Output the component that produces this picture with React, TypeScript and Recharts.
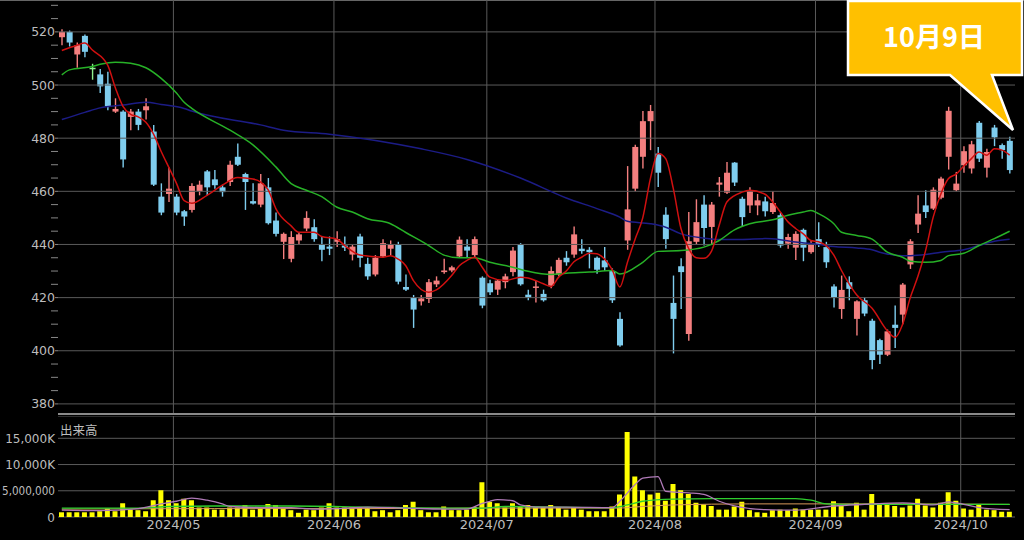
import React from 'react';
import { ComposedChart, Bar, Line, XAxis, YAxis, CartesianGrid, ReferenceLine } from 'recharts';

// trading days shown (Apr 9 .. Oct 9, 2024)
const aprDays = [9, 10, 11, 12, 15, 16, 17, 18, 19, 22, 23, 24, 25, 26, 30];
const mayDays = [1, 2, 7, 8, 9, 10, 13, 14, 15, 16, 17, 20, 21, 22, 23, 24, 27, 28, 29, 30, 31];
const junDays = [3, 4, 5, 6, 7, 10, 11, 12, 13, 14, 17, 18, 19, 20, 21, 24, 25, 26, 27, 28];
const julDays = [1, 2, 3, 4, 5, 8, 9, 10, 11, 12, 16, 17, 18, 19, 22, 23, 24, 25, 26, 29, 30, 31];
const augDays = [1, 2, 5, 6, 7, 8, 9, 13, 14, 15, 16, 19, 20, 21, 22, 23, 26, 27, 28, 29, 30];
const sepDays = [2, 3, 4, 5, 6, 9, 10, 11, 12, 13, 17, 18, 19, 20, 24, 25, 26, 27, 30];
const octDays = [1, 2, 3, 4, 7, 8, 9];

const monthLabels = ['2024/05', '2024/06', '2024/07', '2024/08', '2024/09', '2024/10'];

const openP = [
  518, 520, 511.5, 518.5, 506.5, 504, 500.5, 490, 490, 488,
  490, 490.5, 482.5, 458, 459, 458, 452.5, 453, 460, 467.5,
  464.5, 461.5, 463.5, 473, 466.5, 456.3, 455, 461.5, 449, 441,
  434.6, 441.5, 446, 446.5, 440, 439.2, 441, 439.6, 436.2, 443,
  432.7, 428.7, 435.5, 438.4, 440, 424, 420, 418.6, 419.5, 425,
  429.6, 430.2, 435.5, 439.2, 436, 427.5, 425.4, 423, 425.8, 429.6,
  440, 421.1, 423.8, 421.4, 424.5, 428.7, 435, 436.2, 438.4, 438,
  435, 434, 430, 412, 441.5, 461, 473, 486.4, 474.2, 451.2,
  418, 431.8, 406.3, 441, 455, 446.6, 462.5, 459.5, 470.8, 457.2,
  454.7, 454.7, 456.2, 452.2, 451, 440.3, 438.8, 445.5, 437.1, 442,
  439, 424.2, 415.7, 425.8, 412, 419, 411.3, 404, 398.5, 409.8,
  413.6, 432.5, 447.5, 454.7, 453.5, 457.6, 473, 460.4, 469.8, 468.6,
  485.8, 468.9, 484, 477.4, 479,
];
const highP = [
  521, 520.5, 516, 519, 508, 506, 505, 495, 490.5, 491,
  491, 495, 485, 463, 469, 459, 453, 463, 464, 468,
  468, 462.5, 471.5, 478, 467, 463, 466.5, 465, 452, 444.5,
  445, 444.5, 452.5, 449.5, 443, 443, 445, 443, 440, 444,
  435, 436, 442, 441.5, 441, 428.7, 421, 421, 427, 428,
  434.6, 432, 443, 442, 443, 428, 426.7, 427, 429, 439,
  440.5, 423, 426.4, 423, 431.7, 435, 437.5, 446.8, 442, 439,
  435.5, 439, 431, 414.5, 469.5, 477.5, 490.2, 492.5, 476.7, 454,
  428.3, 434.8, 452.2, 457, 458.5, 456, 465.4, 471, 471, 458,
  461.5, 459, 458, 460, 452, 444, 445, 446, 441.5, 448.4,
  441, 425, 428.3, 428, 419, 420, 412, 404.5, 408, 417,
  425.5, 442, 458.5, 460.4, 461.5, 465.5, 491.8, 467.3, 477, 479,
  486.5, 476, 485, 478, 480.5,
];
const lowP = [
  515, 514.5, 506.5, 510.5, 502, 497, 490.5, 489.5, 469, 483,
  483, 487, 462, 451, 456, 451, 447, 452, 458.5, 458.5,
  461, 458, 462, 469.5, 453, 455, 454, 447.5, 443, 434.5,
  433.3, 440, 445, 441, 433.7, 436, 439, 437.5, 434, 431.4,
  426.7, 428, 435, 436, 425, 422.5, 408.6, 417, 418, 424,
  429, 429.5, 435, 435, 435, 416, 421, 421, 423.5, 428,
  424.5, 419, 418.2, 418.5, 423.5, 428, 432, 435, 436.5, 431,
  429, 430, 418, 401.5, 438, 460, 468.6, 475.5, 461.6, 438.4,
  399, 415.7, 403.8, 440, 439.6, 440, 458, 459, 462, 446.8,
  451.8, 451, 450.5, 451.5, 438.8, 438.4, 434.2, 433.7, 436.5, 439,
  431.2, 416.3, 412, 419, 405.7, 413, 393, 395, 398, 401,
  410, 430.8, 444.3, 450, 453, 457, 468.2, 460, 467, 466.7,
  471, 465.2, 477, 472.3, 466.7,
];
const closeP = [
  520, 516, 515, 512.5, 506.5, 499.5, 492, 491, 472, 490,
  485, 492, 462.5, 452, 461, 452, 450.5, 462, 462.5, 461.5,
  462.3, 459.7, 470, 470, 463.5, 455.4, 463, 448, 444, 444,
  442.8, 443.8, 450, 442, 438, 438.4, 442, 438.8, 439.2, 435,
  428, 435, 440.5, 440, 426, 423, 415.5, 419.7, 425.8, 426.4,
  430.2, 431.4, 441.8, 437.7, 442, 417, 422, 426.4, 428, 437.7,
  425, 420, 424.2, 419, 430, 434.2, 433.3, 443.8, 437.5, 437.1,
  430.5, 431.4, 419, 402, 453.2, 476.7, 486.4, 490.2, 467, 442,
  412, 429.6, 441.2, 448.4, 446.2, 455, 463.3, 467, 463.3, 450.3,
  460.4, 456.6, 452.5, 455.6, 439.6, 442.8, 444, 438.8, 440, 440,
  433.3, 420, 422.9, 423.3, 418.6, 414, 396.5, 398.5, 407.3, 408.6,
  424.9, 441.2, 451.6, 452.2, 460.6, 464.8, 490.3, 462.9, 475.1, 477.7,
  472.3, 474.8, 480.3, 475.5, 468,
];

// volume in thousands of shares
const volumeK = [
  900, 900, 900, 900, 900, 1100, 1600, 1100, 2600, 1400,
  1300, 1100, 3200, 5100, 3200, 2600, 3500, 3200, 1800, 1800,
  1400, 1400, 1800, 1800, 2300, 1400, 1600, 2500, 2300, 1600,
  1300, 800, 1400, 1300, 1800, 2600, 1800, 1800, 1800, 1900,
  1800, 1100, 1300, 900, 1300, 2300, 2900, 1300, 900, 900,
  2000, 1300, 1300, 1400, 1900, 6600, 2900, 2600, 1800, 2600,
  1900, 2300, 1800, 1900, 2300, 1800, 1400, 1800, 1400, 1100,
  1100, 1100, 2000, 4300, 16200, 7700, 5100, 4300, 4600, 3100,
  6300, 5100, 4400, 2700, 2400, 2100, 1400, 1400, 2000, 2900,
  1300, 900, 800, 1300, 1400, 1300, 1600, 1400, 1400, 1400,
  1400, 3000, 2300, 1100, 2700, 1400, 4400, 2400, 2500, 2100,
  1800, 2200, 3500, 2200, 1800, 2700, 4700, 3100, 1600, 1400,
  2500, 1400, 1300, 1000, 1000,
];

// moving averages: [candle index, value]
const priceMaShort = [
  [0, 513], [2, 515], [3, 515.8], [4, 513.2], [6, 507.5], [7, 499], [8, 492], [9, 489], [10, 488], [11, 486],
  [12, 481.5], [13, 475], [14, 469], [15, 463], [16, 456.5], [17, 455.5], [19, 458.5], [21, 462.3], [23, 465.2],
  [25, 464.6], [26, 463.5], [27, 460.5], [28, 453.5], [30, 447], [31, 444.6], [33, 444.6], [34, 443], [36, 442],
  [37, 439.6], [39, 436], [42, 435.2], [43, 435.8], [44, 434.5], [45, 432], [46, 426.4], [48, 422], [49, 422.9],
  [51, 428.3], [52, 432], [53, 434], [54, 435.2], [55, 431.4], [56, 427.7], [58, 426.4], [60, 427.7], [61, 427.4],
  [63, 425.2], [64, 424.2], [65, 427.7], [66, 430], [67, 433.5], [68, 435.2], [69, 436.7], [70, 436.5], [71, 434.5],
  [72, 430.5], [73, 424], [74, 433.3], [75, 442], [76, 450], [77, 464.8], [78, 474.2], [79, 472.3], [80, 461],
  [81, 446], [82, 438.5], [83, 435], [84, 434.8], [85, 437.5], [86, 447.2], [87, 456], [89, 459.7], [90, 460.4],
  [92, 458.9], [93, 456], [94, 452.2], [95, 448.5], [96, 446], [97, 444], [98, 441.5], [99, 441], [100, 439.5],
  [101, 436], [102, 430.2], [103, 425.2], [104, 421], [106, 416], [108, 407.5], [109, 405], [110, 410], [111, 420],
  [112, 428], [113, 437.7], [114, 450.3], [115, 459], [116, 464.8], [117, 466.5], [118, 469.5], [119, 472.3],
  [120, 474.8], [121, 473.6], [122, 476], [123, 475.5], [124, 473.6],
];
const priceMaMid = [
  [0, 503.8], [1, 505.7], [4, 507], [5, 507.8], [7, 508.6], [9, 508.2], [11, 506.5], [13, 502.5], [15, 497],
  [16, 493.5], [17, 491.2], [22, 483], [25, 477.5], [28, 469.2], [30, 462.9], [32, 460.4], [34, 458], [36, 454],
  [38, 452.2], [40, 449.7], [43, 447.8], [45, 444.5], [48, 439.6], [50, 436], [52, 435], [54, 435], [56, 433.3],
  [59, 431.4], [61, 429.9], [64, 428.7], [66, 429.2], [69, 429.6], [72, 430.2], [73, 428.9], [76, 433.3],
  [78, 437.4], [81, 437.7], [84, 439], [86, 441.5], [88, 445.5], [90, 447.8], [93, 449.3], [95, 451], [97, 452.2],
  [98, 452.8], [99, 451.6], [101, 447.8], [102, 444.6], [104, 443.4], [106, 442], [108, 437.1], [110, 435.2],
  [111, 433.7], [113, 433.3], [115, 434], [116, 435.8], [118, 436.7], [120, 439.6], [122, 442.2], [124, 445],
];
const priceMaLong = [
  [0, 487], [3, 489.7], [5, 491.4], [8, 492.5], [11, 493.5], [13, 492.7], [16, 491.2], [17, 490.2], [26, 485],
  [29, 483], [35, 481.5], [47, 476], [53, 472], [60, 465], [66, 457.5], [70, 453.5], [73, 450.3], [74, 448.7],
  [77, 447.8], [79, 446.5], [81, 444], [84, 442.4], [86, 441.9], [89, 441.9], [92, 442.2], [94, 441.8],
  [96, 440.9], [99, 440], [101, 439.2], [104, 438.7], [106, 438], [107, 437.1], [110, 435.8], [111, 435.8],
  [113, 436.2], [115, 437.1], [118, 438], [120, 439.6], [122, 441.2], [124, 442],
];
const volMaShort = [
  [0, 1300], [5, 1200], [10, 1600], [13, 2500], [15, 3000], [17, 3600], [19, 3200], [21, 2500], [22, 2000],
  [26, 1800], [30, 1800], [33, 1500], [36, 1600], [40, 1900], [45, 1700], [50, 1500], [53, 1500], [55, 2600],
  [56, 3000], [57, 3300], [59, 3100], [60, 2300], [62, 1900], [66, 1900], [72, 1800], [73, 3000], [75, 6200],
  [76, 7400], [78, 7700], [79, 4900], [82, 4600], [84, 4300], [86, 3000], [88, 2100], [92, 1400], [96, 1300],
  [101, 2100], [105, 2400], [110, 2700], [114, 2300], [116, 2900], [118, 2400], [120, 1800], [124, 1400],
];
const volMaMid = [
  [0, 1700], [10, 1700], [14, 2000], [20, 2100], [30, 2100], [40, 1900], [50, 1700], [55, 1700], [58, 2000],
  [72, 1800], [74, 2300], [76, 3000], [80, 3400], [85, 3500], [96, 3500], [98, 3200], [100, 2500], [104, 2400],
  [124, 2400],
];
const volMaLong = [
  [0, 1500], [20, 1600], [40, 1600], [55, 1700], [73, 1700], [75, 1900], [80, 2300], [90, 2500], [110, 2500],
  [124, 2400],
];

const priceTicks = [380, 400, 420, 440, 460, 480, 500, 520];
const priceMinorTicks = [
  380, 385, 390, 395, 400, 405, 410, 415, 420, 425, 430, 435, 440, 445, 450, 455, 460, 465, 470, 475,
  480, 485, 490, 495, 500, 505, 510, 515, 520, 525, 530,
];
const volTicks = [0, 5000, 10000, 15000];
const volTickLabels = ['0', '5,000,000', '10,000K', '15,000K'];

const UP = '#f47f7f';
const DOWN = '#7fcdee';
const DOJI = '#8ff08f';
const GRID = '#5a5a5a';
const TEXT = '#bdbdbd';
const FONT = '"DejaVu Sans", Verdana, sans-serif';

const allDays = [aprDays, mayDays, junDays, julDays, augDays, sepDays, octDays];
const dates: string[] = [];
const monthStarts: number[] = [];
allDays.forEach((days, m) => {
  if (m > 0) monthStarts.push(dates.length - 0.4);
  days.forEach((d) => dates.push(`2024/${String(m + 4).padStart(2, '0')}/${String(d).padStart(2, '0')}`));
});

const candles = dates.map((date, i) => ({
  i,
  date,
  open: openP[i],
  high: highP[i],
  low: lowP[i],
  close: closeP[i],
  vol: volumeK[i],
}));

const toSeries = (pts: number[][]) => pts.map(([i, v]) => ({ i, v }));

const X_DOMAIN: [number, number] = [-0.5, 124.7];
const LEFT = 58;
const RIGHT = 9;

const Candle = (props: any) => {
  const { x, y, width, height, payload } = props;
  if (x == null || y == null) return null;
  const { open, close, high, low } = payload;
  const top = Math.min(y, y + height);
  const h = Math.abs(height);
  const k = h / (high - low);
  const cx = x + width / 2;
  const yO = top + (high - open) * k;
  const yC = top + (high - close) * k;
  const color = close > open ? UP : close < open ? DOWN : DOJI;
  const bodyTop = Math.min(yO, yC);
  const bodyH = Math.max(Math.abs(yO - yC), 1.5);
  return (
    <g>
      <line x1={cx} x2={cx} y1={top} y2={top + h} stroke={color} strokeWidth={1.4} />
      <rect x={x} y={bodyTop} width={width} height={bodyH} fill={color} />
    </g>
  );
};

const PriceTick = (props: any) => {
  const { x, y, payload } = props;
  const major = priceTicks.includes(payload.value);
  return (
    <g>
      <line x1={major ? x - 3 : x - 7} x2={x} y1={y} y2={y} stroke="#888" strokeWidth={1} />
      {major && (
        <text x={x - 3} y={y} dy={4.5} textAnchor="end" fill={TEXT} fontSize={12.5} fontFamily={FONT}>
          {payload.value}
        </text>
      )}
    </g>
  );
};

const VolTick = (props: any) => {
  const { x, y, payload } = props;
  const label = volTickLabels[volTicks.indexOf(payload.value)];
  const long = label.length > 7;
  return (
    <text
      x={x}
      y={y}
      dy={4.5}
      textAnchor="end"
      fill={TEXT}
      fontSize={12}
      fontFamily={FONT}
      textLength={long ? 53 : undefined}
      lengthAdjust={long ? 'spacingAndGlyphs' : undefined}
    >
      {label}
    </text>
  );
};

export default function App() {
  return (
    <div
      style={{
        position: 'fixed',
        left: 0,
        top: 0,
        width: 1024,
        height: 540,
        background: '#000',
        overflow: 'hidden',
        fontFamily: FONT,
      }}
    >
      <div style={{ position: 'absolute', left: 0, top: 0, width: 1024, height: 1, background: '#666' }} />
      <div style={{ position: 'absolute', left: 0, top: 0 }}>
        <ComposedChart width={1024} height={414} data={candles} margin={{ top: 0, right: RIGHT, left: 0, bottom: 0 }}>
          <XAxis dataKey="i" type="number" domain={X_DOMAIN} allowDataOverflow hide />
          <YAxis
            type="number"
            domain={[376.2, 532]}
            ticks={priceMinorTicks}
            interval={0}
            width={LEFT}
            axisLine={false}
            tickLine={false}
            tickSize={0}
            tickMargin={0}
            tick={<PriceTick />}
            allowDataOverflow
          />
          {priceTicks.map((p) => (
            <ReferenceLine key={p} y={p} stroke={GRID} strokeWidth={1} ifOverflow="hidden" />
          ))}
          {monthStarts.map((m) => (
            <ReferenceLine key={m} x={m} stroke={GRID} strokeWidth={1} />
          ))}
          <Bar dataKey={(d: any) => [d.low, d.high]} barSize={6} shape={<Candle />} isAnimationActive={false} />
          <Line
            data={toSeries(priceMaLong)}
            dataKey="v"
            type="monotone"
            stroke="#1c1c86"
            strokeWidth={1.5}
            dot={false}
            isAnimationActive={false}
          />
          <Line
            data={toSeries(priceMaMid)}
            dataKey="v"
            type="monotone"
            stroke="#27b127"
            strokeWidth={1.5}
            dot={false}
            isAnimationActive={false}
          />
          <Line
            data={toSeries(priceMaShort)}
            dataKey="v"
            type="monotone"
            stroke="#d01010"
            strokeWidth={1.5}
            dot={false}
            isAnimationActive={false}
          />
        </ComposedChart>
      </div>
      <div style={{ position: 'absolute', left: LEFT, top: 413, width: 1024 - LEFT - RIGHT, height: 2, background: '#8a8a8a' }} />
      <div style={{ position: 'absolute', left: 0, top: 416 }}>
        <ComposedChart width={1024} height={124} data={candles} margin={{ top: 0, right: RIGHT, left: 0, bottom: 0 }}>
          <CartesianGrid vertical={false} stroke={GRID} />
          <XAxis
            dataKey="i"
            type="number"
            domain={X_DOMAIN}
            ticks={monthStarts}
            interval={0}
            tickFormatter={(v: number) => monthLabels[monthStarts.indexOf(v)] ?? ''}
            axisLine={false}
            tickLine={false}
            tickSize={0}
            tickMargin={3}
            height={23}
            allowDataOverflow
            tick={{ fill: TEXT, fontSize: 13, fontFamily: FONT }}
          />
          <YAxis
            type="number"
            domain={[0, 19250]}
            ticks={volTicks}
            interval={0}
            width={LEFT}
            axisLine={false}
            tickLine={false}
            tickSize={0}
            tickMargin={3}
            tick={<VolTick />}
          />
          {monthStarts.map((m) => (
            <ReferenceLine key={m} x={m} stroke={GRID} strokeWidth={1} />
          ))}
          <Bar dataKey="vol" barSize={5} fill="#ffff00" isAnimationActive={false} />
          <Line data={toSeries(volMaLong)} dataKey="v" type="monotone" stroke="#d89a5a" strokeWidth={1} dot={false} isAnimationActive={false} />
          <Line data={toSeries(volMaMid)} dataKey="v" type="monotone" stroke="#2fcf2f" strokeWidth={1.3} dot={false} isAnimationActive={false} />
          <Line data={toSeries(volMaShort)} dataKey="v" type="monotone" stroke="#b07ab8" strokeWidth={1.3} dot={false} isAnimationActive={false} />
        </ComposedChart>
      </div>
      <div style={{ position: 'absolute', left: 60, top: 420, color: TEXT, fontSize: 12.5, fontFamily: '"Noto Sans CJK JP", sans-serif' }}>
        出来高
      </div>
      <svg width={1024} height={540} style={{ position: 'absolute', left: 0, top: 0, pointerEvents: 'none' }}>
        <path
          d="M848,1 L1022,1 L1022,75 L992,75 L1013,130 L950,75 L848,75 Z"
          fill="#ffc000"
          stroke="#ffffff"
          strokeWidth={2.5}
          strokeLinejoin="miter"
        />
        <text
          x={934}
          y={47}
          textAnchor="middle"
          fill="#ffffff"
          fontSize={27}
          fontWeight="bold"
          fontFamily='"Noto Sans CJK JP", sans-serif'
        >
          10月9日
        </text>
      </svg>
    </div>
  );
}
